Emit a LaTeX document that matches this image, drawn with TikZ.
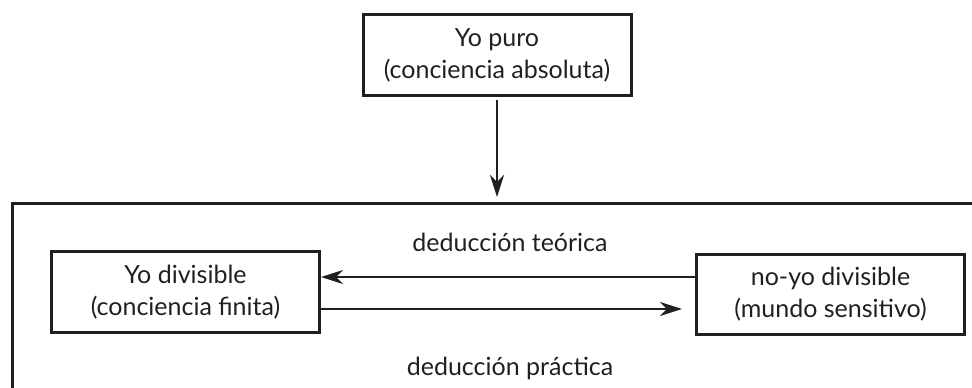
\documentclass[tikz,border=0pt]{standalone}
\usepackage{fontspec}
\setmainfont{Lato}
\usetikzlibrary{arrows.meta}
\definecolor{ink}{HTML}{231F20}
\tikzset{
  box/.style={draw=ink, line width=3pt, minimum width=268pt, minimum height=81pt, align=center, inner sep=0pt, text=ink, font=\fontsize{25}{32}\selectfont},
  lbl/.style={text=ink, font=\fontsize{25}{32}\selectfont, inner sep=0pt},
  tip/.style={-{Stealth[length=22pt,width=14pt,inset=7pt]}},
}
\begin{document}
\begin{tikzpicture}[x=1pt,y=-1pt]
\useasboundingbox (0,0) rectangle (972,388);
\begin{scope}
\clip (0,0) rectangle (972,388);
\coordinate (bl) at (12,400);
\coordinate (bigtop) at (497,203);
\coordinate (tr) at (985,203);
\draw[ink, line width=3pt] (bl) |- (tr);
\end{scope}
\node[box] (top) at (497,55) {Yo puro\\(conciencia absoluta)};
\node[box] (left) at (185.5,292) {Yo divisible\\(conciencia finita)};
\node[box, minimum height=80pt] (right) at (830.5,294.3) {no-yo divisible\\(mundo sensitivo)};
\node[lbl] (teo) at (510,242) {deducción teórica};
\node[lbl] (pra) at (510,368) {deducción práctica};
\draw[ink, line width=2.8pt, tip, shorten <=3pt, shorten >=6pt] (top.south) -- (bigtop);
\draw[ink, line width=1.5pt, tip] (right.west |- 0,277) -- (left.east |- 0,277);
\draw[ink, line width=2.8pt, tip, shorten >=13pt] (left.east |- 0,309) -- (right.west |- 0,309);
\end{tikzpicture}
\end{document}
